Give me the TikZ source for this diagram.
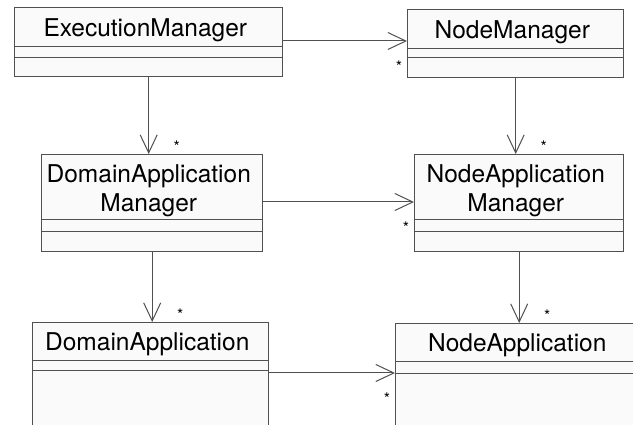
\documentclass[tikz,border=0pt]{standalone}
\usepackage{fontspec}
\setmainfont{TeX Gyre Heros}
\usepackage{tikz}
\usetikzlibrary{arrows.meta, positioning, matrix}
\usepackage{xcolor}
\definecolor{linegray}{HTML}{505050}
\definecolor{boxfill}{HTML}{FAFAFA}
% class name broken over two lines inside a matrix cell
\newcommand{\twolines}[2]{\begin{tabular}[b]{@{}c@{}}#1\\#2\end{tabular}}
\tikzset{%
	class box/.style n args={4}{
		matrix of nodes,
		nodes in empty cells,
		inner sep=0pt,
		row sep=-1pt,
		anchor=north west,
		nodes={draw=linegray, fill=boxfill, line width=1pt, anchor=center, align=center, inner sep=2pt, minimum width=#1, font=\fontsize{24.5}{29}\selectfont},
		row 1/.style={nodes={minimum height=#2, text depth=0pt}},
		row 2/.style={nodes={minimum height=#3}},
		row 3/.style={nodes={minimum height=#4}}
	},
	assoc/.style={
		draw=linegray,
		line width=1pt,
		-{Straight Barb[length=18pt, width=17pt, line width=1pt]}
	},
	mult below/.style={font=\fontsize{16}{16}\selectfont, inner sep=0pt, xshift=-8pt, yshift=-26pt},
	mult right/.style={font=\fontsize{16}{16}\selectfont, inner sep=0pt, xshift=28pt, yshift=7pt},
}

\begin{document}
\begin{tikzpicture}[x=1pt, y=-1pt]
			\path[fill=white, use as bounding box] (0,0) rectangle (633,425);
			\clip (0,0) rectangle (633,425);
			
			% Manager classes, top row
			\matrix[class box={268pt}{39pt}{11pt}{19pt}] (em) at (14,7) {
				ExecutionManager \\
				\\
				\\
			};
			\matrix[class box={216pt}{39pt}{9pt}{20pt}] (nm) at (407,9) {
				NodeManager \\
				\\
				\\
			};
			
			% Application managers, middle row
			\matrix[class box={221pt}{65pt}{12pt}{20pt}] (dam) at (41,154) {
				\twolines{DomainApplication}{Manager} \\
				\\
				\\
			};
			\matrix[class box={209pt}{65pt}{12pt}{20pt}] (nam) at (414,154) {
				\twolines{NodeApplication}{Manager} \\
				\\
				\\
			};
			
			% Applications, bottom row (running off the page)
			\matrix[class box={236pt}{38pt}{10pt}{55pt}] (da) at (32,322) {
				DomainApplication \\
				\\
				\\
			};
			\matrix[class box={250pt}{38pt}{12pt}{60pt}] (na) at (395,323) {
				NodeApplication \\
				\\
				\\
			};
			
			% Horizontal associations
			\draw[assoc] (em.east |- 0,41) -- (nm.west |- 0,41) node[at end, mult below] {*};
			\draw[assoc] (dam.east |- 0,202) -- (nam.west |- 0,202) node[at end, mult below] {*};
			\draw[assoc] (da.east |- 0,373) -- (na.west |- 0,373) node[at end, mult below] {*};
			
			% Vertical associations
			\draw[assoc] (em.south) -- (em.south |- dam.north) node[at end, mult right] {*};
			\draw[assoc] (nm.south) -- (nm.south |- nam.north) node[at end, mult right] {*};
			\draw[assoc] (dam.south) -- (dam.south |- da.north) node[at end, mult right] {*};
			\draw[assoc] (nam.south) -- (nam.south |- na.north) node[at end, mult right] {*};
\end{tikzpicture}
\end{document}
